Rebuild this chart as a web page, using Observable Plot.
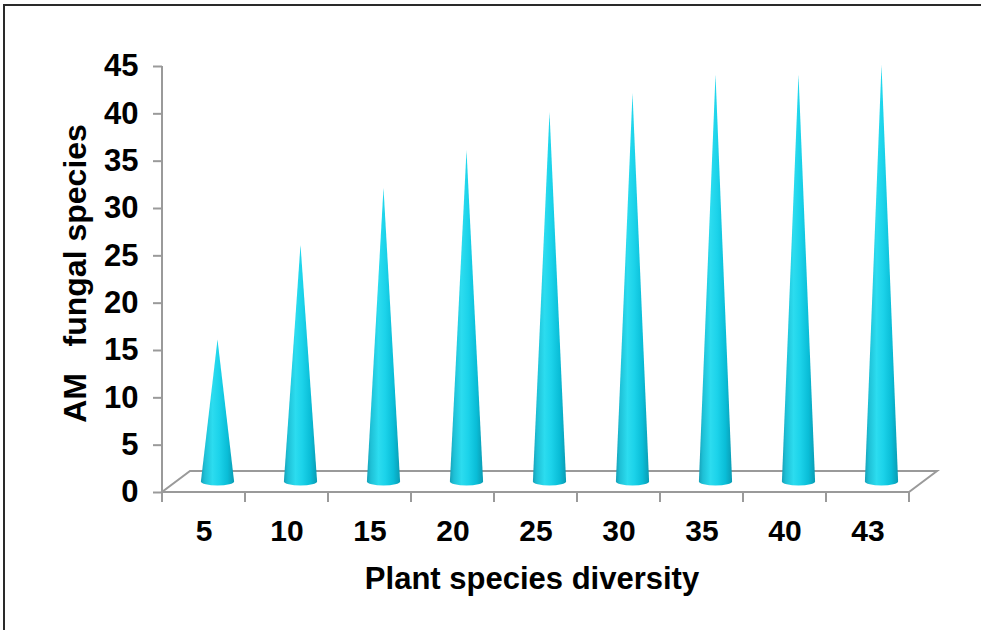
<!DOCTYPE html>
<html><head><meta charset="utf-8">
<script src="https://cdn.jsdelivr.net/npm/d3@7"></script>
<script src="https://cdn.jsdelivr.net/npm/@observablehq/plot@0.6"></script>
<style>
body{margin:0;background:#fff;}
#wrap{position:relative;width:981px;height:630px;overflow:hidden;background:#fff;}
#wrap svg{position:absolute;left:0;top:0;}
#border{position:absolute;left:3px;top:4px;width:1100px;height:800px;border-top:2px solid #2a2a2a;border-left:2px solid #2a2a2a;pointer-events:none;}
</style></head><body><div id="wrap"></div>
<script>
const categories = ["5","10","15","20","25","30","35","40","43"];
const fungalSpecies = [15,25,31,35,39,41,43,43,44];
const yTicks = [0,5,10,15,20,25,30,35,40,45];
const xTitle = "Plant species diversity";
const yTitle = "AM\u00a0\u00a0 fungal species";

const data = categories.map((c, i) => ({plant: c, fungi: fungalSpecies[i]}));

const DX = 28, DY = 21; // perspective depth offset in px
const FONT = "'Liberation Sans', Arial, sans-serif";

function floorMark(index, scales, values, dimensions) {
  const {x, y} = scales;
  const {width, marginLeft, marginRight} = dimensions;
  const x0 = marginLeft, x1 = width - marginRight, y0 = y(0);
  const g = d3.create("svg:g");
  g.append("path")
    .attr("d", `M${x0},${y0}L${x1},${y0}L${x1 + DX},${y0 - DY}L${x0 + DX},${y0 - DY}Z`)
    .attr("fill", "white").attr("stroke", "#9a9a9a").attr("stroke-width", 2).attr("stroke-linejoin", "miter");
  g.append("line").attr("x1", x0).attr("x2", x0).attr("y1", y(yTicks[yTicks.length - 1])).attr("y2", y0)
    .attr("stroke", "#9a9a9a").attr("stroke-width", 2);
  const bounds = categories.map(c => x(c)).concat([x(categories[categories.length - 1]) + x.bandwidth()]);
  g.selectAll("line.t").data(bounds).join("line").attr("class", "t")
    .attr("x1", d => d).attr("x2", d => d).attr("y1", y0).attr("y2", y0 + 10)
    .attr("stroke", "#9a9a9a").attr("stroke-width", 2);
  return g.node();
}

function coneMark(index, scales) {
  const {x, y} = scales;
  const g = d3.create("svg:g");
  const grad = g.append("defs").append("linearGradient").attr("id", "coneGrad")
    .attr("x1", 0).attr("x2", 1).attr("y1", 0).attr("y2", 0);
  [[0, "#16a0b7"], [0.12, "#1ec0d6"], [0.35, "#2cdcef"], [0.55, "#1cd3ea"], [0.8, "#0abdd7"], [1, "#0a9bb3"]]
    .forEach(([o, c]) => grad.append("stop").attr("offset", o).attr("stop-color", c));
  const r = x.bandwidth() * 0.2, ry = 4;
  g.selectAll("path").data(data).join("path")
    .attr("d", d => {
      const cx = x(d.plant) + x.bandwidth() / 2 + DX / 2;
      const yb = y(0) - DY / 2;
      const yt = y(d.fungi) - DY / 2;
      return `M${cx - r},${yb}L${cx},${yt}L${cx + r},${yb}A${r},${ry} 0 0 1 ${cx - r},${yb}Z`;
    })
    .attr("fill", "url(#coneGrad)");
  return g.node();
}

const chart = Plot.plot({
  width: 981,
  height: 630,
  marginLeft: 162,
  marginRight: 72,
  marginTop: 66,
  marginBottom: 138,
  style: {fontFamily: FONT, fontSize: "30px", fontWeight: "bold", color: "black", background: "transparent"},
  x: {type: "band", domain: categories, padding: 0},
  y: {domain: [0, 45]},
  marks: [
    Plot.barY(data, {x: "plant", y: "fungi", fillOpacity: 0}),
    floorMark,
    coneMark,
    Plot.axisY({ticks: yTicks, tickSize: 9, tickPadding: 15, stroke: "#9a9a9a", strokeWidth: 2, fill: "black", fontSize: 31, fontWeight: "bold", label: null}),
    Plot.axisX({tickSize: 0, tickPadding: 27, fill: "black", fontSize: 30, fontWeight: "bold", label: null}),
    Plot.text([yTitle], {text: d => d, frameAnchor: "left", textAnchor: "middle", lineAnchor: "middle", rotate: -90, dx: -87, dy: -6, fontSize: 32, fontWeight: "bold", fill: "black"}),
    Plot.text([xTitle], {text: d => d, frameAnchor: "bottom", textAnchor: "middle", lineAnchor: "middle", dx: -4, dy: 87, fontSize: 31, fontWeight: "bold", fill: "black"})
  ]
});
const wrap = document.getElementById("wrap");
wrap.appendChild(chart);
const b = document.createElement("div"); b.id = "border"; wrap.appendChild(b);
</script></body></html>
